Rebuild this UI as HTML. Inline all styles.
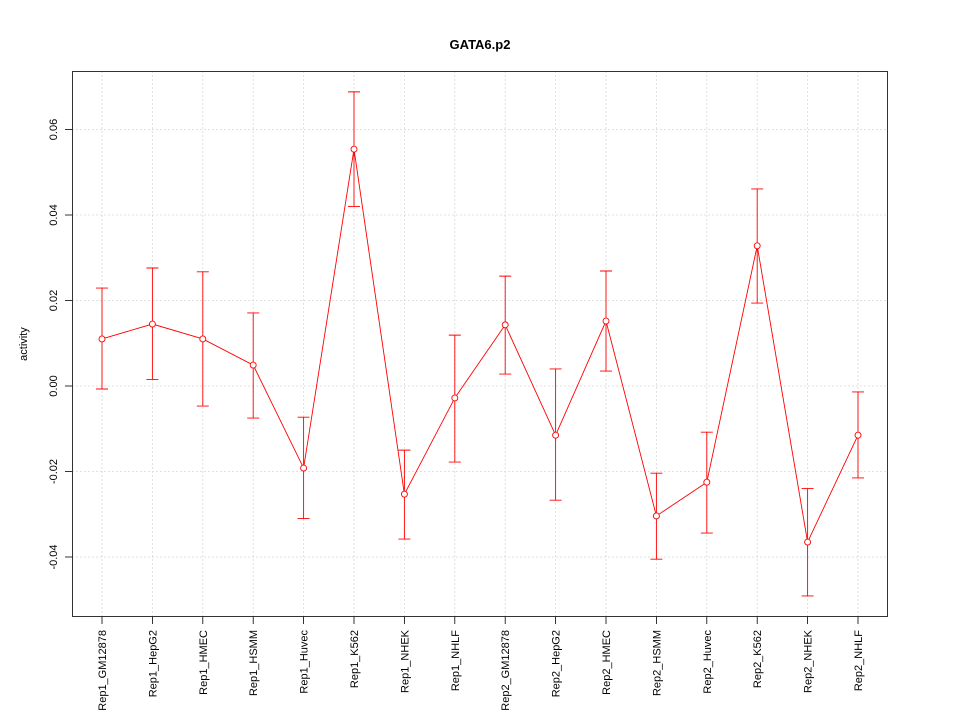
<!DOCTYPE html>
<html><head><meta charset="utf-8"><style>
body{margin:0;background:#fff;}
svg text{font-family:"Liberation Sans",sans-serif;}
</style></head><body>
<svg id="chart" width="960" height="720" xmlns="http://www.w3.org/2000/svg">
<rect width="960" height="720" fill="#fff"/>
<text x="480" y="49" text-anchor="middle" font-size="13" font-weight="bold">GATA6.p2</text>
<text transform="translate(27,344) rotate(-90)" text-anchor="middle" font-size="11">activity</text>
<g id="grid"></g><g id="axes"></g><g id="marks"></g>
<rect x="72.5" y="71.5" width="815" height="545" fill="none" stroke="#000" stroke-width="0.8"/>
</svg>
<script>
const categories=["Rep1_GM12878","Rep1_HepG2","Rep1_HMEC","Rep1_HSMM","Rep1_Huvec","Rep1_K562","Rep1_NHEK","Rep1_NHLF","Rep2_GM12878","Rep2_HepG2","Rep2_HMEC","Rep2_HSMM","Rep2_Huvec","Rep2_K562","Rep2_NHEK","Rep2_NHLF"];
const values=[0.011,0.0145,0.011,0.0049,-0.0192,0.0554,-0.0253,-0.0028,0.0143,-0.0115,0.0152,-0.0304,-0.0225,0.0328,-0.0365,-0.0115];
const upper=[0.0229,0.0276,0.0267,0.0171,-0.0073,0.0688,-0.015,0.0119,0.0257,0.004,0.0269,-0.0204,-0.0108,0.0461,-0.024,-0.0014];
const lower=[-0.0007,0.0015,-0.0047,-0.0075,-0.031,0.042,-0.0358,-0.0178,0.0028,-0.0267,0.0035,-0.0405,-0.0344,0.0194,-0.0491,-0.0215];
const yTicks=[-0.04,-0.02,0,0.02,0.04,0.06];
const yTickLabels=["-0.04","-0.02","0.00","0.02","0.04","0.06"];
const NS="http://www.w3.org/2000/svg";
const xs=i=>102+i*(858-102)/(categories.length-1);
const ys=v=>386-v*4275;
function mk(parent,tag,attrs){const e=document.createElementNS(NS,tag);for(const k in attrs)e.setAttribute(k,attrs[k]);document.getElementById(parent).appendChild(e);return e;}
yTicks.forEach((t,i)=>{
 let g=mk('grid','line',{x1:72,x2:888,y1:ys(t),y2:ys(t),stroke:'#d8d8d8','stroke-width':0.8,'stroke-dasharray':'2,2'});
 
 
 let tk=mk('axes','line',{x1:65,x2:72,y1:ys(t),y2:ys(t),stroke:'#000','stroke-width':0.8});
 
 
 let tx=mk('axes','text',{transform:`translate(57,${ys(t)}) rotate(-90)`,'text-anchor':'middle','font-size':'11'});
 tx.textContent=yTickLabels[i];
 
 
});
categories.forEach((c,i)=>{
 const x=xs(i);
 let g=mk('grid','line',{x1:x,x2:x,y1:71,y2:617,stroke:'#d8d8d8','stroke-width':0.8,'stroke-dasharray':'2,2'});
 
 
 let tk=mk('axes','line',{x1:x,x2:x,y1:617,y2:624,stroke:'#000','stroke-width':0.8});
 
 
 let tx=mk('axes','text',{transform:`translate(${x+4},630) rotate(-90)`,'text-anchor':'end','font-size':'11'});
 tx.textContent=c;
 
 
});
let pts=values.map((v,i)=>xs(i)+','+ys(v)).join(' ');
let pl=mk('marks','polyline',{points:pts,fill:'none',stroke:'#f00','stroke-width':0.9});


values.forEach((v,i)=>{
 const x=xs(i);
 let e=mk('marks','path',{d:`M${x},${ys(upper[i])}V${ys(lower[i])}M${x-6},${ys(upper[i])}H${x+6}M${x-6},${ys(lower[i])}H${x+6}`,stroke:'#f00','stroke-width':0.9,fill:'none'});
 
 
 let p=mk('marks','circle',{cx:x,cy:ys(v),r:3,fill:'#fff',stroke:'#f00','stroke-width':0.9});
 
 
});
</script>
</body></html>
